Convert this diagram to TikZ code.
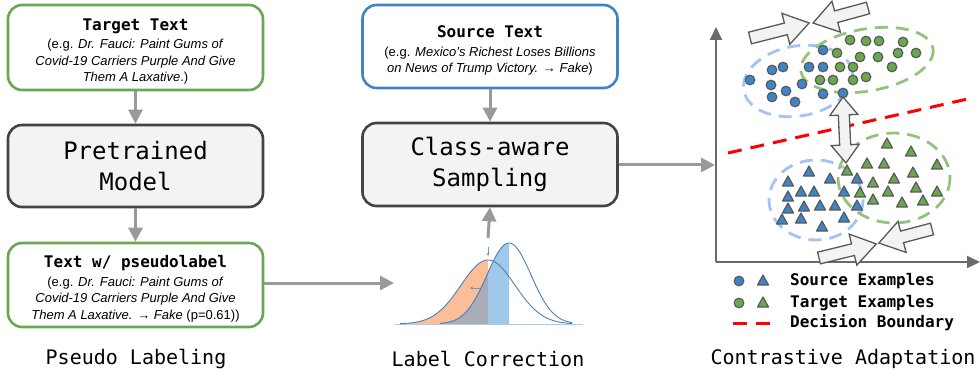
\documentclass[tikz,border=0pt]{standalone}
\usepackage{fontspec}
\setmainfont{Liberation Sans}
\setmonofont{DejaVu Sans Mono}
\usetikzlibrary{arrows.meta,calc}
\definecolor{bgreen}{HTML}{6AA84F}
\definecolor{bblue}{HTML}{3D85C6}
\definecolor{dgray}{HTML}{434343}
\definecolor{lgray}{HTML}{F3F3F3}
\definecolor{agray}{HTML}{999999}
\definecolor{mgray}{HTML}{595959}
\definecolor{elblue}{HTML}{A4C2F4}
\definecolor{elgreen}{HTML}{93C47D}
\definecolor{corange}{HTML}{FBBE98}
\definecolor{cgray}{HTML}{A8ACB7}
\definecolor{cblue}{HTML}{9FC8EA}
\definecolor{cline}{HTML}{4A80B8}
\definecolor{cbase}{HTML}{A9CDEB}
\newcommand\blockarr[4]{%
  \begin{scope}[shift={(#1,#2)},rotate=#3]
    \draw[blk] (0,-6) -- ({#4-24},-6) -- ({#4-24},-16) -- (#4,0) -- ({#4-24},16) -- ({#4-24},6) -- (0,6) -- cycle;
  \end{scope}}
\newcommand\dblarr[4]{%
  \begin{scope}[shift={(#1,#2)},rotate=#3]
    \draw[blk] (0,0) -- (18,-14) -- (18,-5.5) -- ({#4-18},-5.5) -- ({#4-18},-14) -- (#4,0) -- ({#4-18},14) -- ({#4-18},5.5) -- (18,5.5) -- (18,14) -- cycle;
  \end{scope}}
\newcommand\headstrut{\rule{0pt}{20pt}}
\begin{document}
\begin{tikzpicture}[x=1pt,y=-1pt,
  box/.style={draw, rounded corners=14pt, line width=2.6pt, minimum width=255pt, align=center, inner sep=0pt},
  greenbox/.style={box, draw=bgreen, fill=white, font=\fontsize{13}{16.5}\selectfont},
  bluebox/.style={box, draw=bblue, fill=white, font=\fontsize{13}{16.5}\selectfont},
  graybox/.style={box, draw=dgray, fill=lgray, font=\fontsize{24}{31}\selectfont\ttfamily},
  flow/.style={draw=agray, line width=3pt, -{Triangle[length=14pt,width=14pt]}},
  caption/.style={font=\fontsize{20}{24}\selectfont\ttfamily, inner sep=0pt},
  legtext/.style={font=\fontsize{16}{19}\selectfont\ttfamily\bfseries, anchor=west, inner sep=0pt},
  axis/.style={draw=mgray!90, line width=2pt, -{Triangle[length=13pt,width=12pt]}},
  elb/.style={draw=elblue, line width=2.8pt, dash pattern=on 13pt off 8pt},
  elg/.style={draw=elgreen, line width=2.8pt, dash pattern=on 13pt off 8pt},
  bdot/.style={fill=bblue, draw=mgray, line width=1.2pt},
  gdot/.style={fill=bgreen, draw=mgray, line width=1.2pt},
  redb/.style={draw=red, line width=3pt, dash pattern=on 14pt off 9pt},
  blk/.style={fill=lgray, draw=mgray, line width=1.3pt, line join=miter},
  small/.style={draw=cline!80, line width=0.8pt, -{Stealth[length=3pt,width=3pt]}}
]
\useasboundingbox (0,0) rectangle (980,377);

% ---------- left column ----------
\node[greenbox, minimum height=85pt] (tgt) at (135.5,47.5)
  {\headstrut{\fontsize{16}{19}\selectfont\ttfamily\bfseries Target Text}\\[2pt]
   (e.g. \textit{Dr. Fauci: Paint Gums of}\\
   \textit{Covid-19 Carriers Purple And Give}\\
   \textit{Them A Laxative}.)};
\node[graybox, minimum height=82pt] (pre) at (135.5,166) {Pretrained\\Model};
\node[greenbox, minimum height=84pt] (pl) at (135.5,285)
  {\headstrut{\fontsize{16}{19}\selectfont\ttfamily\bfseries Text w/ pseudolabel}\\[2pt]
   (e.g. \textit{Dr. Fauci: Paint Gums of}\\
   \textit{Covid-19 Carriers Purple And Give}\\
   \textit{Them A Laxative. → Fake} (p=0.61))};
\draw[flow] (tgt.south) -- (pre.north);
\draw[flow] (pre.south) -- (pl.north);
\node[caption] (cap1) at (136,359) {Pseudo Labeling};

% ---------- middle column ----------
\node[bluebox, minimum height=83pt] (src) at (490,46.5)
  {\headstrut{\fontsize{16}{19}\selectfont\ttfamily\bfseries Source Text}\\[2pt]
   (e.g. \textit{Mexico’s Richest Loses Billions}\\
   \textit{on News of Trump Victory. → Fake})};
\node[graybox, minimum height=83pt] (cls) at (490,164.5) {Class-aware\\Sampling};
\draw[flow] (src.south) -- (cls.north);

% label correction curves
\coordinate (lcin) at (394,283);
\coordinate (lctop) at (488,238);
\fill[corange] (408,324) -- plot[domain=408:488,samples=60] (\x,{324-64*exp(-0.5*((\x-488)/27)*((\x-488)/27))}) -- (488,324) -- cycle;
\fill[cgray] (440,324) -- plot[domain=440:488,samples=50] (\x,{324-81*exp(-0.5*((\x-509)/22)*((\x-509)/22))}) -- (488,324) -- cycle;
\fill[cblue] (488,324) -- plot[domain=488:509,samples=30] (\x,{324-81*exp(-0.5*((\x-509)/22)*((\x-509)/22))}) -- (509,324) -- cycle;
\draw[cbase, line width=1pt] (395,324) -- (583,324);
\draw[cline, line width=0.9pt] plot[domain=400:572,samples=120] (\x,{324-64*exp(-0.5*((\x-488)/27)*((\x-488)/27))});
\draw[cline, line width=0.9pt] plot[domain=440:572,samples=120] (\x,{324-81*exp(-0.5*((\x-509)/22)*((\x-509)/22))});
\draw[small] (488,247) -- (488,256);
\draw[small] (480,288) -- (470,288);
\draw[flow] (lctop) -- (cls.south);
\draw[flow] (pl.east |- lcin) -- (lcin);
\node[caption] (cap2) at (488,359) {Label Correction};

% ---------- right column ----------
\coordinate (org) at (716,262);
\coordinate (ytop) at (716,27);
\coordinate (xend) at (980,262);
\coordinate (plotin) at (715,165);
\draw[flow] (cls.east |- plotin) -- (plotin);
\draw[axis] (org) -- (ytop);
\draw[axis] (org) -- (xend);

% ellipses
\draw[elb, rotate around={10:(798,81)}] (798,81) ellipse [x radius=55, y radius=35];
\draw[elg, rotate around={10:(867,60)}] (867,60) ellipse [x radius=67, y radius=31];
\draw[elb] (816,200) ellipse [x radius=47, y radius=40];
\draw[elg] (894,178) ellipse [x radius=56, y radius=45];

% decision boundary
\draw[redb] (728,153) -- (972,98);

% circles
\foreach \x/\y in {750/80,772/70,783/67,771/85,786/91,802/84,772/97,795/102,823/50,809/67,823/67,823/94,843/93}
  \draw[bdot] (\x,\y) circle[radius=4.8];
\foreach \x/\y in {850/40,866/41,879/41,903/42,837/53,860/57,878/57,898/53,916/53,840/67,853/67,892/67,820/80,833/80,853/80,866/77}
  \draw[gdot] (\x,\y) circle[radius=4.8];
% triangles
\foreach \x/\y in {809/172,788/182,830/179,801/192,814/192,788/197,844/192,857/179,804/207,820/206,835/206,788/209,782/220,801/219,844/218,822/227,857/206}
  \draw[bdot, line join=round] (\x,\y) ++(-5.5,4) -- ++(11,0) -- ++(-5.5,-10) -- cycle;
\foreach \x/\y in {887/144,911/152,867/164,884/164,937/165,847/171,913/173,873/183,894/179,860/193,888/192,916/188,937/192,873/200,902/203,923/201}
  \draw[gdot, line join=round] (\x,\y) ++(-5.5,4) -- ++(11,0) -- ++(-5.5,-10) -- cycle;

% block arrows
\blockarr{750}{38}{14.3}{61}
\blockarr{868}{8}{195.3}{57}
\blockarr{819}{258}{13.8}{59}
\blockarr{932}{229}{194.8}{55}
\dblarr{843}{97}{-87.4}{66}

% legend
\draw[bdot] (739,281) circle[radius=4.8];
\draw[bdot, line join=round] (763,281) ++(-5.5,4) -- ++(11,0) -- ++(-5.5,-10) -- cycle;
\draw[gdot] (739,303) circle[radius=4.8];
\draw[gdot, line join=round] (763,303) ++(-5.5,4) -- ++(11,0) -- ++(-5.5,-10) -- cycle;
\draw[redb] (733,323) -- (770,323);
\node[legtext] (l1) at (790,281) {Source Examples};
\node[legtext] (l2) at (790,303) {Target Examples};
\node[legtext] (l3) at (790,323) {Decision Boundary};
\node[caption] (cap3) at (843,359) {Contrastive Adaptation};
\end{tikzpicture}
\end{document}
